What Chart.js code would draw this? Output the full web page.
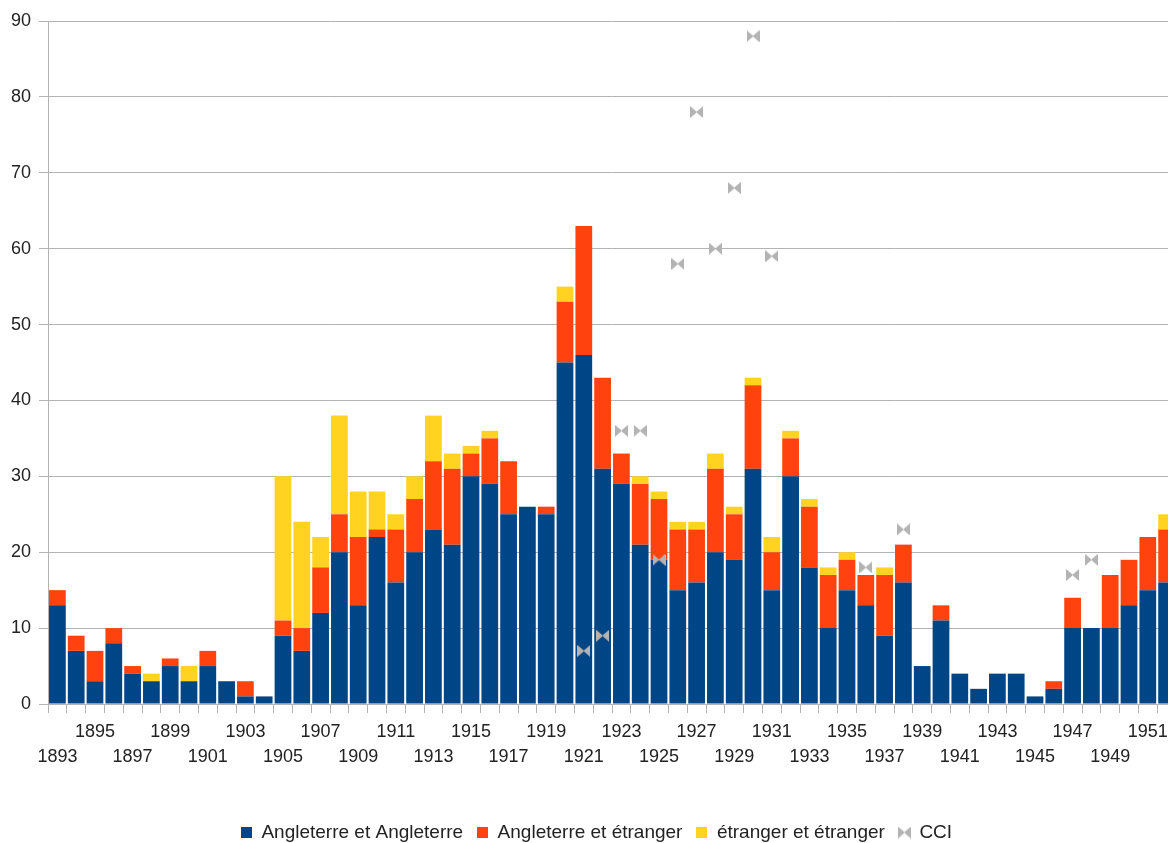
<!DOCTYPE html>
<html>
<head>
<meta charset="utf-8">
<script src="https://cdn.jsdelivr.net/npm/chart.js@4/dist/chart.umd.min.js"></script>
<style>
  html, body { margin:0; padding:0; overflow:hidden; background:#fff; }
  #myChart { display:block; }
</style>
</head>
<body>
<canvas id="myChart" width="1181" height="852"></canvas>
<script>
// years 1893 -> 1952 (last one is cut by the window)
var years = [];
for (var y = 1893; y <= 1952; y++) { years.push(String(y)); }

var anglAngl = [13,7,3,8,4,3,5,3,5,3,1,1,9,7,12,20,13,22,16,20,
                23,21,30,29,25,26,25,45,46,31,29,21,19,15,16,20,19,31,15,30,
                18,10,15,13,9,16,5,11,4,2,4,4,1,2,10,10,10,13,15,16];
var anglEtr  = [2,2,4,2,1,0,1,0,2,0,2,0,2,3,6,5,9,1,7,7,
                9,10,3,6,7,0,1,8,17,12,4,8,8,8,7,11,6,11,5,5,
                8,7,4,4,8,5,0,2,0,0,0,0,0,1,4,0,7,6,7,7];
var etrEtr   = [0,0,0,0,0,1,0,2,0,0,0,0,19,14,4,13,6,5,2,3,
                6,2,1,1,0,0,0,2,0,0,0,1,1,1,1,2,1,1,2,1,
                1,1,1,0,1,0,0,0,0,0,0,0,0,0,0,0,0,0,0,2];
var cci      = [null,null,null,null,null,null,null,null,null,null,null,null,null,null,null,null,null,null,null,null,
                null,null,null,null,null,null,null,null,7,9,36,36,19,58,78,60,68,88,59,null,
                null,null,null,18,null,23,null,null,null,null,null,null,null,null,17,19,null,null,null,null];

var seriesNames = ['Angleterre et Angleterre', 'Angleterre et étranger', 'étranger et étranger', 'CCI'];
var colors = ['#004586', '#ff420e', '#ffd320', '#b3b3b3'];

// little square for the legend
function squareIcon(col){
  var c = document.createElement('canvas');
  c.width = 11; c.height = 11;
  var g = c.getContext('2d');
  g.fillStyle = col;
  g.fillRect(0, 0, 11, 11);
  return c;
}

// bowtie marker like the spreadsheet one
function bowtie(col, w, h){
  var c = document.createElement('canvas');
  c.width = w; c.height = h;
  var g = c.getContext('2d');
  g.fillStyle = col;
  g.beginPath();
  g.moveTo(0, 0); g.lineTo(w/2 + 0.5, h/2); g.lineTo(0, h); g.closePath();
  g.moveTo(w, 0); g.lineTo(w/2 - 0.5, h/2); g.lineTo(w, h); g.closePath();
  g.fill();
  return c;
}

// legend sits a few px right of the canvas centre in the original
var nudgeLegend = {
  id: 'nudgeLegend',
  afterLayout: function(chart){
    if (chart.legend) { chart.legend.left += 6; chart.legend.right += 6; }
  }
};

Chart.defaults.font.family = "'Liberation Sans', Arial, sans-serif";
Chart.defaults.color = '#222';

var ctx = document.getElementById('myChart').getContext('2d');
var chart = new Chart(ctx, {
  type: 'bar',
  data: {
    labels: years,
    datasets: [{
      label: seriesNames[0],
      data: anglAngl,
      backgroundColor: colors[0],
      pointStyle: squareIcon(colors[0]),
      stack: 'a'
    }, {
      label: seriesNames[1],
      data: anglEtr,
      backgroundColor: colors[1],
      pointStyle: squareIcon(colors[1]),
      stack: 'a'
    }, {
      label: seriesNames[2],
      data: etrEtr,
      backgroundColor: colors[2],
      pointStyle: squareIcon(colors[2]),
      stack: 'a'
    }, {
      type: 'line',
      label: seriesNames[3],
      data: cci,
      showLine: false,
      stack: 'cci',
      order: -1,
      pointStyle: bowtie(colors[3], 13, 12),
      backgroundColor: colors[3],
      borderColor: colors[3]
    }]
  },
  plugins: [nudgeLegend],
  options: {
    responsive: false,
    animation: false,
    layout: { padding: { top: 21, left: 0, right: 0, bottom: 0 } },
    datasets: {
      bar: { barPercentage: 0.89, categoryPercentage: 1.0, borderWidth: 0 }
    },
    plugins: {
      tooltip: { enabled: false },
      legend: {
        position: 'bottom',
        labels: {
          usePointStyle: true,
          pointStyleWidth: 11,
          padding: 14,
          font: { size: 19 },
          color: '#222',
          sort: function(a, b){ return a.datasetIndex - b.datasetIndex; }
        }
      }
    },
    scales: {
      x: {
        stacked: true,
        afterFit: function(scale){ scale.height = 105; },
        border: { color: '#b3b3b3' },
        grid: { drawOnChartArea: false, drawTicks: true, tickLength: 9, color: '#b3b3b3' },
        ticks: {
          autoSkip: false,
          maxRotation: 0,
          minRotation: 0,
          padding: 6,
          font: { size: 18, lineHeight: 1.4 },
          color: '#222',
          callback: function(value, index){
            var yr = parseInt(years[index], 10);
            if (yr % 2 === 0) return '';
            // odd years, two staggered rows
            if (((yr - 1893) / 2) % 2 === 0) return ['', String(yr)];
            return String(yr);
          }
        }
      },
      y: {
        stacked: true,
        min: 0,
        max: 90,
        afterFit: function(scale){ scale.width = 48; },
        border: { color: '#b3b3b3' },
        grid: { color: '#b3b3b3', tickLength: 9 },
        ticks: { stepSize: 10, padding: 8, font: { size: 18 }, color: '#222' }
      }
    }
  }
});
</script>
</body>
</html>
